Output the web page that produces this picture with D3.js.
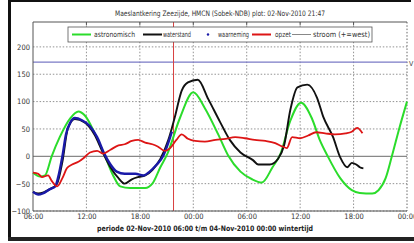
<!DOCTYPE html>
<html>
<head>
<meta charset="utf-8">
<script src="https://cdn.jsdelivr.net/npm/d3@7/dist/d3.min.js"></script>
<style>
  html, body { margin: 0; padding: 0; background: #fff; }
  svg { display: block; }
  text { font-family: "Liberation Sans Narrow", "DejaVu Sans Condensed", "Liberation Sans", sans-serif; }
</style>
</head>
<body>
<div id="vis"></div>
<script>
// hours after 02-Nov-2010 06:00, value in cm
const astronomisch = [
  [0, -30], [0.8, -37], [1.35, -35], [2.1, 0], [3.0, 35], [4.2, 70], [5.1, 82], [5.8, 75],
  [7.0, 40], [8.1, 0], [9.0, -35], [9.8, -55], [10.9, -58], [12.6, -58], [13.4, -50],
  [14.3, -20], [15.1, 5], [16.5, 70], [18.0, 117], [19.3, 88], [20.8, 40], [21.9, 2],
  [23.3, -28], [24.6, -42], [25.7, -48], [26.9, -20], [27.8, 5], [28.9, 65], [30.1, 98],
  [31.3, 70], [32.2, 30], [33.1, 0], [34.5, -40], [35.8, -62], [36.7, -67], [38.1, -68],
  [38.8, -62], [39.6, -40], [40.3, 0], [41.2, 55], [42, 100]
];
const waterstand = [
  [0, -65], [0.6, -68], [1.9, -60], [2.7, -50], [3.3, -10], [3.9, 50], [4.7, 68], [5.8, 62],
  [6.9, 40], [7.9, 5], [8.7, -20], [9.6, -40], [10.3, -50], [11.1, -42], [11.8, -38],
  [12.6, -35], [13.4, -25], [14.3, -5], [15.2, 30], [15.9, 70], [16.7, 120], [17.4, 135],
  [18.5, 140], [19.7, 104], [21.0, 63], [22.1, 30], [23.3, 7], [24.7, -7], [25.3, -15],
  [26.6, -15], [27.5, -5], [28.2, 20], [28.9, 85], [29.7, 126], [30.8, 131], [31.9, 107],
  [32.6, 72], [33.7, 35], [34.5, -2], [35.3, -20], [35.8, -12], [36.3, -15], [36.7, -20],
  [37.1, -22]
];
const waarneming = [
  [0, -65], [0.6, -70], [1.1, -68], [1.9, -60], [2.5, -55], [2.8, -40], [3.3, 0], [3.7, 40],
  [4.2, 62], [4.7, 70], [5.5, 66], [6.4, 55], [7.2, 35], [8.0, 5], [8.7, -15], [9.4, -28],
  [10.3, -32], [11.5, -32], [12.4, -35], [13.1, -28], [13.9, -15], [14.6, 0], [15.2, 25],
  [15.6, 45]
];
const opzet = [
  [0, -30], [0.6, -32], [1.0, -38], [1.7, -35], [2.1, -45], [2.7, -55], [3.3, -40],
  [3.8, -22], [4.4, -15], [5.1, -10], [5.7, -3], [6.4, 7], [7.2, 10], [7.9, 5], [8.7, 12],
  [9.6, 20], [10.3, 22], [11.1, 28], [11.8, 30], [12.6, 25], [13.4, 22], [14.0, 18],
  [14.8, 10], [15.4, 15], [16.1, 30], [16.7, 40], [17.4, 32], [18.2, 28], [19.3, 27],
  [20.5, 30], [21.6, 32], [22.7, 35], [23.8, 33], [24.9, 30], [26.1, 28], [27.2, 24],
  [28.0, 18], [28.5, 15], [29.1, 35], [30.0, 33], [30.9, 38], [31.8, 44], [32.8, 42],
  [33.9, 40], [35.1, 42], [35.8, 45], [36.4, 52], [37.0, 42]
];
const refLevel = 172;
const plotHour = 15.78; // plot: 02-Nov-2010 21:47
const yTicks = [-100, -50, 0, 50, 100, 150, 200];
const legendItems = ["astronomisch", "waterstand", "waarneming", "opzet", "stroom (+=west)"];

const width = 414, height = 243;
const start = new Date(2010, 10, 2, 6, 0);
const end = new Date(2010, 10, 4, 0, 0);
const toDate = h => new Date(start.getTime() + h * 3600e3);

const svg = d3.select("#vis").append("svg")
  .attr("width", width).attr("height", height);

// outer frame
svg.append("rect").attr("x", 9).attr("y", 0).attr("width", 402).attr("height", 2).attr("fill", "#111");
svg.append("rect").attr("x", 8).attr("y", 0).attr("width", 3).attr("height", 241).attr("fill", "#111");
svg.append("rect").attr("x", 8).attr("y", 237).attr("width", 406).attr("height", 4).attr("fill", "#222");

const plot = { left: 33, right: 407, top: 22, bottom: 211 };

const x = d3.scaleTime().domain([start, end]).range([plot.left, plot.right]);
const y = d3.scaleLinear().domain([-100, 245.5]).range([plot.bottom, plot.top]);

// title
svg.append("text")
  .attr("x", 220).attr("y", 16)
  .attr("text-anchor", "middle")
  .attr("font-size", 7.5).attr("fill", "#333")
  .attr("textLength", 210).attr("lengthAdjust", "spacingAndGlyphs")
  .text("Maeslantkering Zeezijde, HMCN (Sobek-NDB) plot: 02-Nov-2010 21:47");

// grid
const xTicks = d3.timeHour.every(6).range(start, d3.timeMinute.offset(end, 1));
const grid = svg.append("g").attr("stroke", "#777").attr("stroke-width", 0.8)
  .attr("stroke-dasharray", "1.5,1.8");
grid.selectAll(".gy").data(yTicks.filter(d => d !== 0)).join("line")
  .attr("x1", plot.left).attr("x2", plot.right)
  .attr("y1", d => y(d)).attr("y2", d => y(d));
grid.selectAll(".gx").data(xTicks.slice(1, -1)).join("line")
  .attr("x1", d => x(d)).attr("x2", d => x(d))
  .attr("y1", plot.top).attr("y2", plot.bottom);
// right edge dotted
svg.append("line").attr("x1", plot.right).attr("x2", plot.right)
  .attr("y1", plot.top).attr("y2", plot.bottom)
  .attr("stroke", "#666").attr("stroke-dasharray", "1.5,1.8");

// zero line
svg.append("line").attr("x1", plot.left).attr("x2", plot.right)
  .attr("y1", y(0)).attr("y2", y(0)).attr("stroke", "#888").attr("stroke-width", 1.3);

// reference level
svg.append("line").attr("x1", plot.left).attr("x2", plot.right)
  .attr("y1", y(refLevel)).attr("y2", y(refLevel)).attr("stroke", "#7a7ac6").attr("stroke-width", 1.3);
svg.append("text").attr("x", 409).attr("y", y(refLevel) + 4)
  .attr("font-size", 7).attr("fill", "#444").text("V");

// plot-time marker
svg.append("line").attr("x1", x(toDate(plotHour))).attr("x2", x(toDate(plotHour)))
  .attr("y1", plot.top).attr("y2", plot.bottom).attr("stroke", "#d84040").attr("stroke-width", 1);

// box
svg.append("line").attr("x1", plot.left).attr("x2", plot.right).attr("y1", plot.top).attr("y2", plot.top)
  .attr("stroke", "#555");
svg.append("line").attr("x1", plot.left).attr("x2", plot.left).attr("y1", plot.top).attr("y2", plot.bottom)
  .attr("stroke", "#555");
svg.append("line").attr("x1", plot.left).attr("x2", plot.right).attr("y1", plot.bottom).attr("y2", plot.bottom)
  .attr("stroke", "#555");

// axes
const yAxis = d3.axisLeft(y).tickValues(yTicks).tickSize(0).tickPadding(3);
const yg = svg.append("g").attr("transform", `translate(${plot.left},0)`).call(yAxis);
yg.select(".domain").remove();
yg.selectAll("text").attr("font-size", 7.5).attr("fill", "#333");

const xAxis = d3.axisBottom(x).tickValues(xTicks).tickFormat(d3.timeFormat("%H:%M")).tickSize(0).tickPadding(3);
const xg = svg.append("g").attr("transform", `translate(0,${plot.bottom})`).call(xAxis);
xg.select(".domain").remove();
xg.selectAll("text").attr("font-size", 7.5).attr("fill", "#333");

// top tick marks
svg.append("g").selectAll("line").data(xTicks.slice(1, -1)).join("line")
  .attr("x1", d => x(d)).attr("x2", d => x(d))
  .attr("y1", plot.top).attr("y2", plot.top + 3).attr("stroke", "#555");

// series
const line = d3.line()
  .x(d => x(toDate(d[0])))
  .y(d => y(d[1]))
  .curve(d3.curveMonotoneX);

const series = [
  { data: astronomisch, color: "#2bdc2b", w: 2 },
  { data: waterstand, color: "#111", w: 1.9 },
  { data: waarneming, color: "#1a1aa8", w: 2.4 },
  { data: opzet, color: "#dd1515", w: 1.8 }
];
svg.append("g").selectAll("path").data(series).join("path")
  .attr("d", d => line(d.data))
  .attr("fill", "none")
  .attr("stroke", d => d.color)
  .attr("stroke-width", d => d.w)
  .attr("stroke-linejoin", "round");

// legend
const lg = svg.append("g");
lg.append("rect").attr("x", 68).attr("y", 27).attr("width", 304).attr("height", 15)
  .attr("fill", "#fff").attr("stroke", "#555").attr("stroke-width", 0.8);
const legendLayout = [
  { sx: 72, color: "#2bdc2b", tx: 94, tw: 41, w: 2 },
  { sx: 143, color: "#111", tx: 163, tw: 28, w: 2 },
  { sx: null, color: "#1a1aa8", tx: 218, tw: 31, w: 2 },
  { sx: 252, color: "#dd1515", tx: 275, tw: 16, w: 2 },
  { sx: 292, color: "#888", tx: 313, tw: 57, w: 1 }
];
legendItems.forEach((name, i) => {
  const it = legendLayout[i];
  if (it.sx === null) {
    lg.append("circle").attr("cx", 208).attr("cy", 34.5).attr("r", 1.2).attr("fill", it.color);
  } else {
    lg.append("line").attr("x1", it.sx).attr("x2", it.sx + 19).attr("y1", 34.5).attr("y2", 34.5)
      .attr("stroke", it.color).attr("stroke-width", it.w);
  }
  lg.append("text").attr("x", it.tx).attr("y", 37)
    .attr("font-size", 7.5).attr("fill", "#333")
    .attr("textLength", it.tw).attr("lengthAdjust", "spacingAndGlyphs")
    .text(name);
});

// bottom caption
svg.append("text")
  .attr("x", 97).attr("y", 231)
  .attr("font-size", 7.5).attr("font-weight", "bold").attr("fill", "#222")
  .attr("textLength", 216).attr("lengthAdjust", "spacingAndGlyphs")
  .text("periode 02-Nov-2010 06:00 t/m 04-Nov-2010 00:00 wintertijd");
</script>
</body>
</html>
